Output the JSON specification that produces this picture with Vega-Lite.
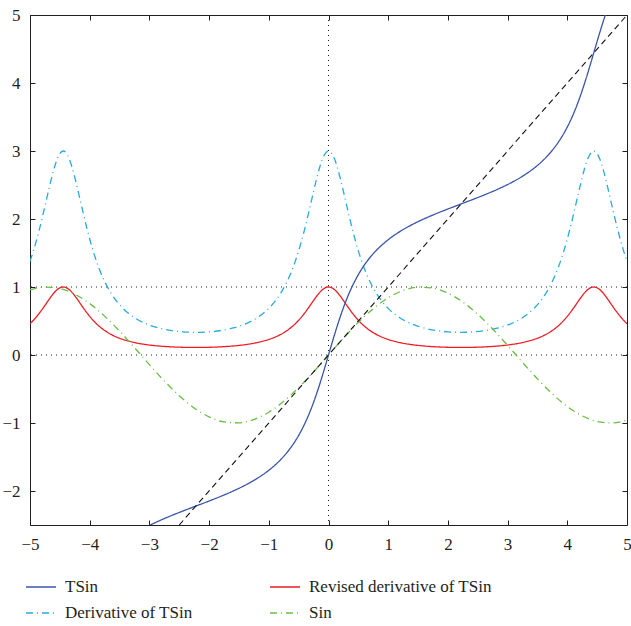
{
  "$schema": "https://vega.github.io/schema/vega-lite/v6.json",
  "width": 597,
  "height": 510,
  "autosize": {"type": "none"},
  "padding": {"left": 30, "top": 15, "right": 4, "bottom": 101},
  "background": "white",
  "config": {
    "view": {"stroke": "#231f20", "strokeWidth": 1},
    "font": "Liberation Serif",
    "axis": {"grid": false, "domain": false, "tickColor": "#231f20", "tickSize": -5, "tickWidth": 1, "labelFont": "Liberation Serif", "labelFontSize": 17, "labelColor": "#231f20", "title": null},
    "legend": {"labelFont": "Liberation Serif"}
  },
  "datasets": {
    "curves": [
      {"x": -5, "Derivative of TSin": 1.3770, "Revised derivative of TSin": 0.4590},
      {"x": -4.9429, "Derivative of TSin": 1.5314, "Revised derivative of TSin": 0.5105},
      {"x": -4.8429, "Derivative of TSin": 1.8483, "Revised derivative of TSin": 0.6161},
      {"x": -4.7429, "Derivative of TSin": 2.2146, "Revised derivative of TSin": 0.7382},
      {"x": -4.6929, "Derivative of TSin": 2.4050, "Revised derivative of TSin": 0.8017},
      {"x": -4.6429, "Derivative of TSin": 2.5886, "Revised derivative of TSin": 0.8629},
      {"x": -4.5929, "Derivative of TSin": 2.7531, "Revised derivative of TSin": 0.9177},
      {"x": -4.5429, "Derivative of TSin": 2.8848, "Revised derivative of TSin": 0.9616},
      {"x": -4.4929, "Derivative of TSin": 2.9703, "Revised derivative of TSin": 0.9901},
      {"x": -4.4429, "Derivative of TSin": 3.0, "Revised derivative of TSin": 1.0},
      {"x": -4.3929, "Derivative of TSin": 2.9703, "Revised derivative of TSin": 0.9901},
      {"x": -4.3429, "Derivative of TSin": 2.8848, "Revised derivative of TSin": 0.9616},
      {"x": -4.2929, "Derivative of TSin": 2.7531, "Revised derivative of TSin": 0.9177},
      {"x": -4.2429, "Derivative of TSin": 2.5886, "Revised derivative of TSin": 0.8629},
      {"x": -4.1929, "Derivative of TSin": 2.4050, "Revised derivative of TSin": 0.8017},
      {"x": -4.1429, "Derivative of TSin": 2.2146, "Revised derivative of TSin": 0.7382},
      {"x": -4.0429, "Derivative of TSin": 1.8483, "Revised derivative of TSin": 0.6161},
      {"x": -3.9429, "Derivative of TSin": 1.5314, "Revised derivative of TSin": 0.5105},
      {"x": -3.8429, "Derivative of TSin": 1.2735, "Revised derivative of TSin": 0.4245},
      {"x": -3.7429, "Derivative of TSin": 1.0695, "Revised derivative of TSin": 0.3565},
      {"x": -3.6429, "Derivative of TSin": 0.9096, "Revised derivative of TSin": 0.3032},
      {"x": -3.5429, "Derivative of TSin": 0.7842, "Revised derivative of TSin": 0.2614},
      {"x": -3.4429, "Derivative of TSin": 0.6855, "Revised derivative of TSin": 0.2285},
      {"x": -3.2429, "Derivative of TSin": 0.5451, "Revised derivative of TSin": 0.1817, "TSin": -2.6254},
      {"x": -3.0429, "Derivative of TSin": 0.4552, "Revised derivative of TSin": 0.1517, "TSin": -2.5261},
      {"x": -2.8429, "Derivative of TSin": 0.3972, "Revised derivative of TSin": 0.1324, "TSin": -2.4412},
      {"x": -2.6429, "Derivative of TSin": 0.3610, "Revised derivative of TSin": 0.1203, "TSin": -2.3657},
      {"x": -2.4429, "Derivative of TSin": 0.3407, "Revised derivative of TSin": 0.1136, "TSin": -2.2958},
      {"x": -2.2214, "Derivative of TSin": 0.3333, "Revised derivative of TSin": 0.1111, "TSin": -2.2214},
      {"x": -2.0, "Derivative of TSin": 0.3407, "Revised derivative of TSin": 0.1136, "TSin": -2.1471},
      {"x": -1.8, "Derivative of TSin": 0.3610, "Revised derivative of TSin": 0.1203, "TSin": -2.0772},
      {"x": -1.6, "Derivative of TSin": 0.3972, "Revised derivative of TSin": 0.1324, "TSin": -2.0017},
      {"x": -1.4, "Derivative of TSin": 0.4552, "Revised derivative of TSin": 0.1517, "TSin": -1.9168},
      {"x": -1.2, "Derivative of TSin": 0.5451, "Revised derivative of TSin": 0.1817, "TSin": -1.8175},
      {"x": -1.0, "Derivative of TSin": 0.6855, "Revised derivative of TSin": 0.2285, "TSin": -1.6955},
      {"x": -0.9, "Derivative of TSin": 0.7842, "Revised derivative of TSin": 0.2614, "TSin": -1.6218},
      {"x": -0.8, "Derivative of TSin": 0.9096, "Revised derivative of TSin": 0.3032, "TSin": -1.5377},
      {"x": -0.7, "Derivative of TSin": 1.0695, "Revised derivative of TSin": 0.3565, "TSin": -1.4391},
      {"x": -0.6, "Derivative of TSin": 1.2735, "Revised derivative of TSin": 0.4245, "TSin": -1.3224},
      {"x": -0.5, "Derivative of TSin": 1.5314, "Revised derivative of TSin": 0.5105, "TSin": -1.1826},
      {"x": -0.4, "Derivative of TSin": 1.8483, "Revised derivative of TSin": 0.6161, "TSin": -1.0141},
      {"x": -0.3, "Derivative of TSin": 2.2146, "Revised derivative of TSin": 0.7382, "TSin": -0.8113},
      {"x": -0.25, "Derivative of TSin": 2.4050, "Revised derivative of TSin": 0.8017, "TSin": -0.6958},
      {"x": -0.2, "Derivative of TSin": 2.5886, "Revised derivative of TSin": 0.8629, "TSin": -0.5709},
      {"x": -0.15, "Derivative of TSin": 2.7531, "Revised derivative of TSin": 0.9177, "TSin": -0.4372},
      {"x": -0.1, "Derivative of TSin": 2.8848, "Revised derivative of TSin": 0.9616, "TSin": -0.2961},
      {"x": -0.05, "Derivative of TSin": 2.9703, "Revised derivative of TSin": 0.9901, "TSin": -0.1495},
      {"x": 0, "Derivative of TSin": 3.0, "Revised derivative of TSin": 1.0, "TSin": 0},
      {"x": 0.05, "Derivative of TSin": 2.9703, "Revised derivative of TSin": 0.9901, "TSin": 0.1495},
      {"x": 0.1, "Derivative of TSin": 2.8848, "Revised derivative of TSin": 0.9616, "TSin": 0.2961},
      {"x": 0.15, "Derivative of TSin": 2.7531, "Revised derivative of TSin": 0.9177, "TSin": 0.4372},
      {"x": 0.2, "Derivative of TSin": 2.5886, "Revised derivative of TSin": 0.8629, "TSin": 0.5709},
      {"x": 0.25, "Derivative of TSin": 2.4050, "Revised derivative of TSin": 0.8017, "TSin": 0.6958},
      {"x": 0.3, "Derivative of TSin": 2.2146, "Revised derivative of TSin": 0.7382, "TSin": 0.8113},
      {"x": 0.4, "Derivative of TSin": 1.8483, "Revised derivative of TSin": 0.6161, "TSin": 1.0141},
      {"x": 0.5, "Derivative of TSin": 1.5314, "Revised derivative of TSin": 0.5105, "TSin": 1.1826},
      {"x": 0.6, "Derivative of TSin": 1.2735, "Revised derivative of TSin": 0.4245, "TSin": 1.3224},
      {"x": 0.7, "Derivative of TSin": 1.0695, "Revised derivative of TSin": 0.3565, "TSin": 1.4391},
      {"x": 0.8, "Derivative of TSin": 0.9096, "Revised derivative of TSin": 0.3032, "TSin": 1.5377},
      {"x": 0.9, "Derivative of TSin": 0.7842, "Revised derivative of TSin": 0.2614, "TSin": 1.6218},
      {"x": 1.0, "Derivative of TSin": 0.6855, "Revised derivative of TSin": 0.2285, "TSin": 1.6955},
      {"x": 1.2, "Derivative of TSin": 0.5451, "Revised derivative of TSin": 0.1817, "TSin": 1.8175},
      {"x": 1.4, "Derivative of TSin": 0.4552, "Revised derivative of TSin": 0.1517, "TSin": 1.9168},
      {"x": 1.6, "Derivative of TSin": 0.3972, "Revised derivative of TSin": 0.1324, "TSin": 2.0017},
      {"x": 1.8, "Derivative of TSin": 0.3610, "Revised derivative of TSin": 0.1203, "TSin": 2.0772},
      {"x": 2.0, "Derivative of TSin": 0.3407, "Revised derivative of TSin": 0.1136, "TSin": 2.1471},
      {"x": 2.2214, "Derivative of TSin": 0.3333, "Revised derivative of TSin": 0.1111, "TSin": 2.2214},
      {"x": 2.4429, "Derivative of TSin": 0.3407, "Revised derivative of TSin": 0.1136, "TSin": 2.2958},
      {"x": 2.6429, "Derivative of TSin": 0.3610, "Revised derivative of TSin": 0.1203, "TSin": 2.3657},
      {"x": 2.8429, "Derivative of TSin": 0.3972, "Revised derivative of TSin": 0.1324, "TSin": 2.4412},
      {"x": 3.0429, "Derivative of TSin": 0.4552, "Revised derivative of TSin": 0.1517, "TSin": 2.5261},
      {"x": 3.2429, "Derivative of TSin": 0.5451, "Revised derivative of TSin": 0.1817, "TSin": 2.6254},
      {"x": 3.4429, "Derivative of TSin": 0.6855, "Revised derivative of TSin": 0.2285, "TSin": 2.7474},
      {"x": 3.5429, "Derivative of TSin": 0.7842, "Revised derivative of TSin": 0.2614, "TSin": 2.8211},
      {"x": 3.6429, "Derivative of TSin": 0.9096, "Revised derivative of TSin": 0.3032, "TSin": 2.9052},
      {"x": 3.7429, "Derivative of TSin": 1.0695, "Revised derivative of TSin": 0.3565, "TSin": 3.0038},
      {"x": 3.8429, "Derivative of TSin": 1.2735, "Revised derivative of TSin": 0.4245, "TSin": 3.1205},
      {"x": 3.9429, "Derivative of TSin": 1.5314, "Revised derivative of TSin": 0.5105, "TSin": 3.2603},
      {"x": 4.0429, "Derivative of TSin": 1.8483, "Revised derivative of TSin": 0.6161, "TSin": 3.4288},
      {"x": 4.1429, "Derivative of TSin": 2.2146, "Revised derivative of TSin": 0.7382, "TSin": 3.6316},
      {"x": 4.1929, "Derivative of TSin": 2.4050, "Revised derivative of TSin": 0.8017, "TSin": 3.7471},
      {"x": 4.2429, "Derivative of TSin": 2.5886, "Revised derivative of TSin": 0.8629, "TSin": 3.8720},
      {"x": 4.2929, "Derivative of TSin": 2.7531, "Revised derivative of TSin": 0.9177, "TSin": 4.0057},
      {"x": 4.3429, "Derivative of TSin": 2.8848, "Revised derivative of TSin": 0.9616, "TSin": 4.1468},
      {"x": 4.3929, "Derivative of TSin": 2.9703, "Revised derivative of TSin": 0.9901, "TSin": 4.2934},
      {"x": 4.4429, "Derivative of TSin": 3.0, "Revised derivative of TSin": 1.0, "TSin": 4.4429},
      {"x": 4.4929, "Derivative of TSin": 2.9703, "Revised derivative of TSin": 0.9901, "TSin": 4.5924},
      {"x": 4.5429, "Derivative of TSin": 2.8848, "Revised derivative of TSin": 0.9616, "TSin": 4.7390},
      {"x": 4.5929, "Derivative of TSin": 2.7531, "Revised derivative of TSin": 0.9177, "TSin": 4.8801},
      {"x": 4.6429, "Derivative of TSin": 2.5886, "Revised derivative of TSin": 0.8629, "TSin": 5.0138},
      {"x": 4.6929, "Derivative of TSin": 2.4050, "Revised derivative of TSin": 0.8017, "TSin": 5.1386},
      {"x": 4.7429, "Derivative of TSin": 2.2146, "Revised derivative of TSin": 0.7382},
      {"x": 4.8429, "Derivative of TSin": 1.8483, "Revised derivative of TSin": 0.6161},
      {"x": 4.9429, "Derivative of TSin": 1.5314, "Revised derivative of TSin": 0.5105},
      {"x": 5, "Derivative of TSin": 1.3770, "Revised derivative of TSin": 0.4590},
      {"x": -5, "Sin": 0.9589}, {"x": -4.75, "Sin": 0.9993}, {"x": -4.5, "Sin": 0.9775}, {"x": -4.25, "Sin": 0.8950},
      {"x": -4, "Sin": 0.7568}, {"x": -3.75, "Sin": 0.5716}, {"x": -3.5, "Sin": 0.3508}, {"x": -3.25, "Sin": 0.1082},
      {"x": -3, "Sin": -0.1411}, {"x": -2.75, "Sin": -0.3817}, {"x": -2.5, "Sin": -0.5985}, {"x": -2.25, "Sin": -0.7781},
      {"x": -2, "Sin": -0.9093}, {"x": -1.75, "Sin": -0.9840}, {"x": -1.5, "Sin": -0.9975}, {"x": -1.25, "Sin": -0.9490},
      {"x": -1, "Sin": -0.8415}, {"x": -0.75, "Sin": -0.6816}, {"x": -0.5, "Sin": -0.4794}, {"x": -0.25, "Sin": -0.2474},
      {"x": 0, "Sin": 0},
      {"x": 0.25, "Sin": 0.2474}, {"x": 0.5, "Sin": 0.4794}, {"x": 0.75, "Sin": 0.6816}, {"x": 1, "Sin": 0.8415},
      {"x": 1.25, "Sin": 0.9490}, {"x": 1.5, "Sin": 0.9975}, {"x": 1.75, "Sin": 0.9840}, {"x": 2, "Sin": 0.9093},
      {"x": 2.25, "Sin": 0.7781}, {"x": 2.5, "Sin": 0.5985}, {"x": 2.75, "Sin": 0.3817}, {"x": 3, "Sin": 0.1411},
      {"x": 3.25, "Sin": -0.1082}, {"x": 3.5, "Sin": -0.3508}, {"x": 3.75, "Sin": -0.5716}, {"x": 4, "Sin": -0.7568},
      {"x": 4.25, "Sin": -0.8950}, {"x": 4.5, "Sin": -0.9775}, {"x": 4.75, "Sin": -0.9993}, {"x": 5, "Sin": -0.9589}
    ],
    "hrefs": [{"y": 0}, {"y": 1}],
    "vrefs": [{"x": 0}],
    "diag": [{"x": -2.5, "y": -2.5}, {"x": 5, "y": 5}]
  },
  "resolve": {"axis": {"x": "independent", "y": "independent"}},
  "layer": [
    {
      "data": {"name": "hrefs"},
      "mark": {"type": "rule", "color": "#231f20", "strokeWidth": 1, "strokeDash": [1, 4]},
      "encoding": {
        "y": {"field": "y", "type": "quantitative", "scale": {"domain": [-2.5, 5], "nice": false, "zero": false}, "axis": null}
      }
    },
    {
      "data": {"name": "vrefs"},
      "mark": {"type": "rule", "color": "#231f20", "strokeWidth": 1, "strokeDash": [1, 4]},
      "encoding": {
        "x": {"field": "x", "type": "quantitative", "scale": {"domain": [-5, 5], "nice": false, "zero": false}, "axis": null}
      }
    },
    {
      "data": {"name": "curves"},
      "transform": [
        {"fold": ["TSin", "Revised derivative of TSin", "Derivative of TSin", "Sin"], "as": ["series", "value"]},
        {"filter": "isValid(datum.value)"}
      ],
      "mark": {"type": "line", "strokeWidth": 1.3, "clip": true, "interpolate": "monotone"},
      "encoding": {
        "x": {"field": "x", "type": "quantitative", "scale": {"domain": [-5, 5], "nice": false, "zero": false},
              "axis": {"orient": "bottom", "values": [-5, -4, -3, -2, -1, 0, 1, 2, 3, 4, 5], "labelPadding": 16, "labelFlush": false,
                       "labelFont": "Liberation Serif", "labelFontSize": 17}},
        "y": {"field": "value", "type": "quantitative", "scale": {"domain": [-2.5, 5], "nice": false, "zero": false},
              "axis": {"orient": "left", "values": [-2, -1, 0, 1, 2, 3, 4, 5], "labelPadding": 15, "labelFlush": false,
                       "labelFont": "Liberation Serif", "labelFontSize": 17}},
        "color": {"field": "series", "type": "nominal",
          "scale": {"domain": ["TSin", "Revised derivative of TSin", "Derivative of TSin", "Sin"], "range": ["#3a55a8", "#ec1c24", "#27aae1", "#6cbd45"]},
          "legend": {"orient": "none", "legendX": -5, "legendY": 556, "direction": "horizontal", "columns": 2, "title": null,
            "symbolType": "stroke", "symbolSize": 900, "symbolStrokeWidth": 1.3, "labelFont": "Liberation Serif", "labelFontSize": 17,
            "labelColor": "#231f20", "labelOffset": 8, "labelLimit": 400, "columnPadding": 74, "rowPadding": 2}},
        "strokeDash": {"field": "series", "type": "nominal",
          "scale": {"domain": ["TSin", "Revised derivative of TSin", "Derivative of TSin", "Sin"], "range": [[1, 0], [1, 0], [7, 4, 1, 4], [7, 4, 1, 4]]},
          "legend": null}
      }
    },
    {
      "data": {"name": "diag"},
      "mark": {"type": "line", "color": "#111111", "strokeWidth": 1.1, "strokeDash": [6, 4], "clip": true},
      "encoding": {
        "x": {"field": "x", "type": "quantitative", "scale": {"domain": [-5, 5], "nice": false, "zero": false},
              "axis": {"orient": "top", "values": [-5, -4, -3, -2, -1, 0, 1, 2, 3, 4, 5], "labels": false}},
        "y": {"field": "y", "type": "quantitative", "scale": {"domain": [-2.5, 5], "nice": false, "zero": false},
              "axis": {"orient": "right", "values": [-2, -1, 0, 1, 2, 3, 4, 5], "labels": false}}
      }
    }
  ]
}
